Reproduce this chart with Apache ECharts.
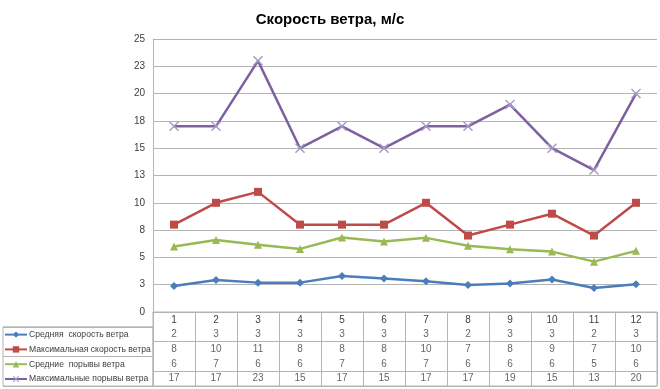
<!DOCTYPE html>
<html><head><meta charset="utf-8">
<script src="https://cdn.jsdelivr.net/npm/echarts@6/dist/echarts.min.js"></script>
<style>html,body{margin:0;padding:0;background:#fff}#c{width:660px;height:389px}</style>
</head><body><div id="c"></div>
<script>
const categories = ['1','2','3','4','5','6','7','8','9','10','11','12'];
const seriesNames = ['Средняя  скорость ветра','Максимальная скорость ветра','Средние  порывы ветра','Максимальные порывы ветра'];
const avgSpeed = [2.38,2.94,2.69,2.69,3.30,3.06,2.82,2.48,2.60,2.97,2.20,2.55];
const maxSpeed = [8,10,11,8,8,8,10,7,8,9,7,10];
const avgGust = [5.99,6.60,6.15,5.78,6.82,6.45,6.79,6.06,5.75,5.53,4.61,5.60];
const maxGust = [17,17,23,15,17,15,17,17,19,15,13,20];
const yTickLabels = ['0','3','5','8','10','13','15','18','20','23','25'];
const titleText = 'Скорость ветра, м/с';

const colors = ['#4A7EBB','#BE4B48','#98B954','#7D60A0'];
const symbols = ['diamond','rect','triangle','path://M0,1L1,0L5,4L9,0L10,1L6,5L10,9L9,10L5,6L1,10L0,9L4,5Z'];
const symbolSizes = [8,8,8,10];
const allSeries = [avgSpeed, maxSpeed, avgGust, maxGust];
const FONT = 'Liberation Sans';
const GRID_C = '#b4b4b4';
const TXT = '#404040';

const lineSeries = allSeries.map((d, i) => ({
  name: seriesNames[i], type: 'line', xAxisIndex: 0, yAxisIndex: 0,
  data: d, symbol: symbols[i], symbolSize: symbolSizes[i],
  lineStyle: {width: 2.5, color: colors[i]},
  itemStyle: {color: i === 3 ? '#a898c8' : colors[i]},
  z: 3
}));

const tableData = [];
allSeries.forEach((d, r) => d.forEach((v, c) => tableData.push([c, r + 1, v])));

const option = {
  animation: false,
  title: {text: titleText, left: 'center', top: 7,
    textStyle: {fontFamily: FONT, fontSize: 15, fontWeight: 'bold', color: '#000'}},
  legend: {
    data: seriesNames.map((n, i) => ({name: n, itemStyle: {color: i === 3 ? '#a898c8' : colors[i]}})),
    orient: 'vertical', left: 4, top: 328.6, itemGap: 2.8, padding: 0, height: 80,
    itemWidth: 22, itemHeight: 8, selectedMode: false,
    textStyle: {fontFamily: FONT, fontSize: 8.6, color: TXT, lineHeight: 12, padding: [0,0,0,-3]}
  },
  grid: [
    {left: 153, right: 3, top: 39, height: 273},
    {left: 153, right: 3, top: 312, height: 74, show: true, borderColor: GRID_C, borderWidth: 1},
    {left: 3, width: 150, top: 326.8, height: 59.2, show: true, borderColor: GRID_C, borderWidth: 1}
  ],
  xAxis: [
    {gridIndex: 0, type: 'category', data: categories, boundaryGap: true,
      axisLine: {show: true, lineStyle: {color: GRID_C}}, axisTick: {show: false},
      axisLabel: {margin: 3, fontFamily: FONT, fontSize: 10, color: TXT}},
    {gridIndex: 1, type: 'category', data: categories, boundaryGap: true,
      axisLine: {show: false}, axisTick: {show: false}, axisLabel: {show: false},
      splitLine: {show: true, lineStyle: {color: GRID_C}}},
    {gridIndex: 2, type: 'category', data: [''], show: false}
  ],
  yAxis: [
    {gridIndex: 0, type: 'value', min: 0, max: 25, interval: 2.5,
      axisLine: {show: true, lineStyle: {color: GRID_C}}, axisTick: {show: false},
      axisLabel: {margin: 8, fontFamily: FONT, fontSize: 10, color: TXT,
        formatter: v => yTickLabels[Math.round(v / 2.5)]},
      splitLine: {show: true, lineStyle: {color: GRID_C}}},
    {gridIndex: 1, type: 'category', inverse: true, data: ['', ...seriesNames],
      axisLine: {show: false}, axisTick: {show: false}, axisLabel: {show: false},
      splitLine: {show: true, lineStyle: {color: GRID_C}}},
    {gridIndex: 2, type: 'category', inverse: true, data: seriesNames,
      axisLine: {show: false}, axisTick: {show: false}, axisLabel: {show: false},
      splitLine: {show: true, lineStyle: {color: GRID_C}}}
  ],
  series: [
    ...lineSeries,
    {type: 'scatter', xAxisIndex: 1, yAxisIndex: 1, data: tableData,
      symbolSize: 1, itemStyle: {color: 'rgba(0,0,0,0)'}, silent: true,
      label: {show: true, position: 'inside', fontFamily: FONT, fontSize: 10, color: TXT,
        formatter: p => String(Math.round(p.value[2]))}}
  ]
};
const chart = echarts.init(document.getElementById('c'), null, {renderer: 'canvas'});
chart.setOption(option);
</script></body></html>
